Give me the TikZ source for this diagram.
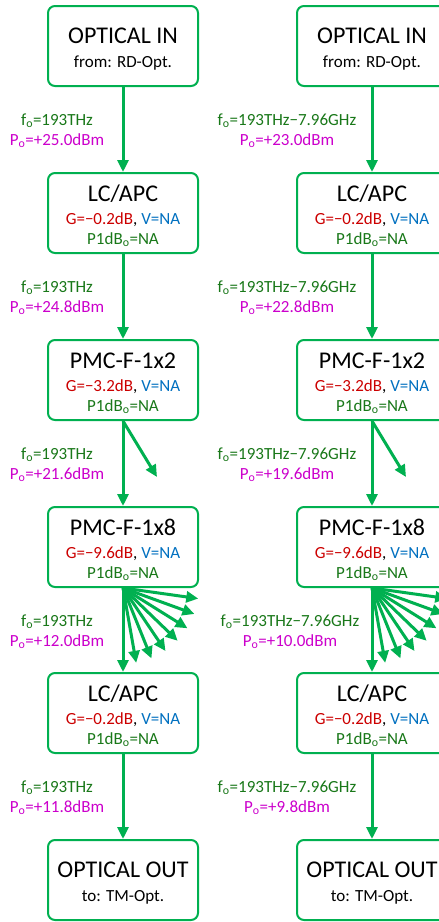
\documentclass[tikz,border=0pt]{standalone}
\usepackage{fontspec}
\setmainfont{Carlito}
\usetikzlibrary{arrows.meta}
\definecolor{bgreen}{RGB}{0,176,80}
\definecolor{tgreen}{RGB}{25,120,25}
\definecolor{tmag}{RGB}{204,0,204}
\definecolor{tred}{RGB}{204,0,0}
\definecolor{tblue}{RGB}{0,112,192}
\newcommand\lo{\textsubscript{o}}
\tikzset{
 blk/.style={draw=bgreen, line width=2pt, rounded corners=7pt, minimum width=150pt, minimum height=80pt, inner sep=0pt, fill=white},
 ttl/.style={anchor=base, font=\fontsize{24}{24}\selectfont, inner sep=0pt},
 sml/.style={anchor=base, font=\fontsize{17}{17}\selectfont, inner sep=0pt},
 flow/.style={draw=bgreen, line width=3pt, -{Triangle[length=12pt,width=11pt]}},
}
\newcommand\compbox[5]{%
 \node[blk] (#1) at (#2,-#3-40) {};
 \node[ttl] (#1t) at (#2,-#3-28) {#4};
 \node[sml] (#1g) at (#2,-#3-51) {\textcolor{tred}{G=#5}, \textcolor{tblue}{V=NA}};
 \node[sml,text=tgreen] (#1p) at (#2,-#3-71) {P1dB\lo=NA};
}
\newcommand\termbox[5]{%
 \node[blk] (#1) at (#2,-#3-40) {};
 \node[ttl] (#1t) at (#2,-#3-37) {#4};
 \node[sml] (#1s) at (#2,-#3-61) {#5};
}
\newcommand\flab[5]{%
 \node[sml,text=tgreen] (#1f) at (#2,-#3+4) {f\lo=#4};
 \node[sml,text=tmag] (#1p) at (#2,-#3-16) {P\lo=#5};
}
\begin{document}
\begin{tikzpicture}[x=1pt,y=1pt]
\clip (0,0) rectangle (439,-922);
\fill[white] (0,0) rectangle (439,-922);
% left column
\termbox{La}{123}{6}{OPTICAL IN}{from: RD-Opt.}
\compbox{Lb}{123}{173}{LC/APC}{−0.2dB}
\compbox{Lc}{123}{340}{PMC-F-1x2}{−3.2dB}
\compbox{Ld}{123}{507}{PMC-F-1x8}{−9.6dB}
\compbox{Le}{123}{673}{LC/APC}{−0.2dB}
\termbox{Lf}{123}{840}{OPTICAL OUT}{to: TM-Opt.}
% right column
\termbox{Ra}{372}{6}{OPTICAL IN}{from: RD-Opt.}
\compbox{Rb}{372}{173}{LC/APC}{−0.2dB}
\compbox{Rc}{372}{340}{PMC-F-1x2}{−3.2dB}
\compbox{Rd}{372}{507}{PMC-F-1x8}{−9.6dB}
\compbox{Re}{372}{673}{LC/APC}{−0.2dB}
\termbox{Rf}{372}{840}{OPTICAL OUT}{to: TM-Opt.}
% connectors
\foreach \c in {L,R}{
 \draw[flow] (\c a) -- (\c b);
 \draw[flow] (\c b) -- (\c c);
 \draw[flow] (\c c) -- (\c d);
 \draw[flow] (\c d) -- (\c e);
 \draw[flow] (\c e) -- (\c f);
 \draw[flow] (\c c.south) -- ++(34,-56);
 \foreach \a in {80,68,56,44,32,20,8}{
  \draw[flow] (\c d.south) -- ++(-\a:76);
 }
}
% labels
\flab{la}{57}{129}{193THz}{+25.0dBm}
\flab{lb}{57}{296}{193THz}{+24.8dBm}
\flab{lc}{57}{463}{193THz}{+21.6dBm}
\flab{ld}{57}{630}{193THz}{+12.0dBm}
\flab{le}{57}{796}{193THz}{+11.8dBm}
\flab{ra}{287}{129}{193THz−7.96GHz}{+23.0dBm}
\flab{rb}{287}{296}{193THz−7.96GHz}{+22.8dBm}
\flab{rc}{287}{463}{193THz−7.96GHz}{+19.6dBm}
\flab{rd}{290}{630}{193THz−7.96GHz}{+10.0dBm}
\flab{re}{287}{796}{193THz−7.96GHz}{+9.8dBm}
\end{tikzpicture}
\end{document}
